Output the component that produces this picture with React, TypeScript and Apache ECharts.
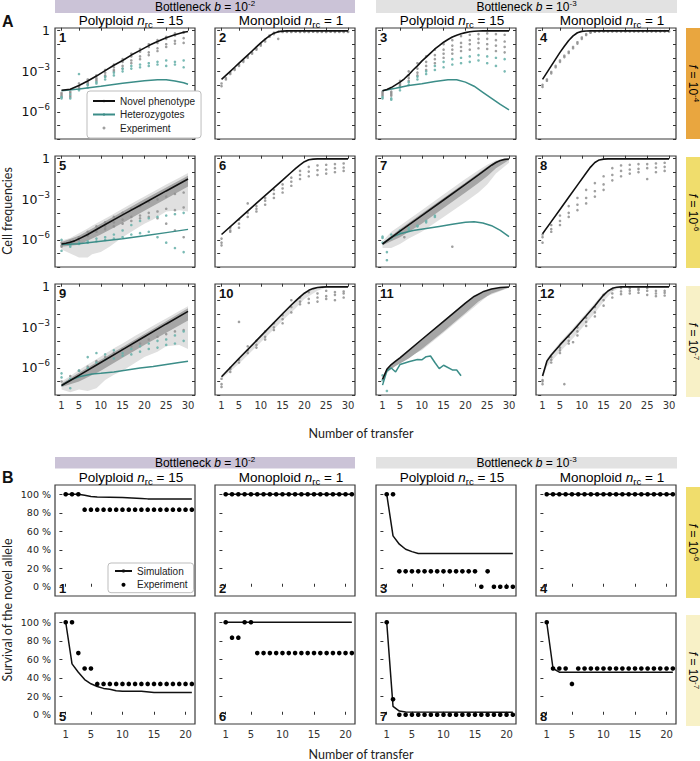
import React, { useEffect, useRef } from "react";
import * as echarts from "echarts";

// ---------------- transfers & tick labels ----------------
const tOdd = [1, 3, 5, 7, 9, 11, 13, 15, 17, 19, 21, 23, 25, 27, 29];
const tAll = [1, 2, 3, 4, 5, 6, 7, 8, 9, 10, 11, 12, 13, 14, 15, 16, 17, 18, 19, 20, 21, 22, 23, 24, 25, 26, 27, 28, 29, 30];
const tB = [1, 2, 3, 4, 5, 6, 7, 8, 9, 10, 11, 12, 13, 14, 15, 16, 17, 18, 19, 20, 21];
const xTicksA = [1, 5, 10, 15, 20, 25, 30];
const xTicksB = [1, 5, 10, 15, 20];
const yLabelsA = [-6, -3, 0]; // log10 of cell frequency
const yTicksA = [-8, -7, -6, -5, -4, -3, -2, -1, 0];
const yTicksB = [0, 20, 40, 60, 80, 100];

// ---------------- Panel A data (log10 cell frequency) ----------------
// 1: polyploid, b=1e-2, f=1e-4
const novel1 = [[1, -4.4], [3, -4.32], [5, -4.05], [7, -3.72], [9, -3.35], [11, -2.95], [13, -2.55], [15, -2.2], [17, -1.8], [19, -1.45], [21, -1.1], [23, -0.8], [25, -0.52], [27, -0.3], [29, -0.12], [30, -0.06]];
const het1 = [[1, -4.43], [5, -4.3], [10, -4.1], [15, -3.88], [20, -3.7], [23, -3.62], [25, -3.63], [27, -3.72], [29, -3.85], [30, -3.95]];
const g1a = [-4.8, -4.6, -4.2, -3.8, -3.5, -3.1, -2.7, -2.3, -1.9, -1.55, -1.2, -0.9, -0.6, -0.35, -0.15];
const g1b = [-4.6, -4.9, -4.1, -3.9, -3.7, -3.3, -2.9, -2.6, -2.2, -1.9, -1.6, -1.3, -1.0, -0.75, -0.55];
const g1c = [-4.9, -4.5, -3.9, -3.6, -3.3, -2.9, -2.5, -2.1, -1.7, -1.35, -1.0, -0.7, -0.45, -0.2, -0.1];
const g1d = [-4.7, -4.8, -4.3, -4.0, -3.6, -3.4, -3.0, -2.8, -2.4, -2.1, -1.8, -1.5, -1.2, -0.95, -0.9];
const t1a = [-4.9, -4.7, -3.2, -4.0, -3.8, -3.4, -3.1, -2.8, -2.6, -2.5, -2.4, -2.3, -2.2, -2.3, -2.2];
const t1b = [-5.0, -5.0, -4.4, -4.2, -3.9, -3.6, -3.3, -3.0, -2.8, -2.7, -2.6, -2.5, -2.6, -2.5, -2.7];

// 2: monoploid, b=1e-2, f=1e-4
const novel2 = [[1, -3.6], [2, -3.3], [3, -3.0], [4, -2.7], [5, -2.4], [6, -2.1], [7, -1.8], [8, -1.5], [9, -1.2], [10, -0.9], [11, -0.62], [12, -0.38], [13, -0.18], [14, -0.07], [15, -0.03], [16, -0.01], [30, -0.01]];
const g2a = [-3.9, -3.5, -3.1, -2.8, -2.5, -2.2, -1.9, -1.6, -1.3, -1.0, -0.65, -0.35, -0.15, -0.08, -0.05, -0.05, -0.06, -0.05, -0.05, -0.06, -0.05, -0.05, -0.05, -0.06, -0.05, -0.05, -0.05, -0.06, -0.05, -0.05];
const g2b = [-4.1, -3.6, -3.2, -2.9, -2.6, -2.3, -2.0, -1.7, -1.4, -1.1, -0.8, -0.45, -0.25, -0.6, -0.1, -0.09, -0.1, -0.08, -0.1, -0.09, -0.1, -0.08, -0.1, -0.09, -0.1, -0.08, -0.1, -0.09, -0.1, -0.09];

// 3: polyploid, b=1e-3, f=1e-4
const novel3 = [[1, -4.43], [2, -4.35], [3, -4.2], [4, -4.0], [5, -3.8], [6, -3.55], [7, -3.25], [8, -2.9], [9, -2.6], [10, -2.25], [11, -1.95], [12, -1.65], [13, -1.35], [14, -1.1], [15, -0.85], [16, -0.65], [17, -0.47], [18, -0.33], [19, -0.22], [20, -0.14], [21, -0.08], [22, -0.04], [23, -0.02], [24, -0.01], [30, -0.01]];
const het3 = [[1, -4.43], [4, -4.25], [7, -4.05], [10, -3.92], [13, -3.75], [16, -3.62], [18, -3.62], [20, -3.8], [22, -4.1], [24, -4.55], [26, -5.0], [28, -5.45], [30, -5.85]];
const g3a = [-4.6, -4.5, -3.9, -3.0, -2.4, -1.9, -1.4, -1.0, -0.7, -0.4, -0.3, -0.25, -0.2, -0.25, -0.3];
const g3b = [-4.8, -4.7, -4.1, -3.3, -2.8, -2.3, -1.8, -1.4, -1.1, -0.9, -0.7, -0.6, -0.6, -0.7, -0.8];
const g3c = [-4.5, -4.6, -3.7, -3.5, -3.1, -2.6, -2.1, -1.7, -1.4, -1.2, -1.0, -0.9, -1.0, -1.1, -1.2];
const g3d = [-4.7, -4.8, -4.0, -3.7, -3.3, -2.9, -2.4, -2.0, -1.7, -1.5, -1.4, -1.3, -1.35, -1.5, -1.6];
const t3a = [-4.9, -5.0, -4.2, -3.8, -3.4, -3.0, -2.6, -2.3, -2.1, -2.0, -1.9, -1.8, -1.9, -2.0, -2.1];
const t3b = [-5.0, -5.1, -4.4, -4.0, -3.6, -3.2, -2.9, -2.7, -2.5, -2.4, -2.3, -2.2, -2.4, -2.6, -3.0];

// 4: monoploid, b=1e-3, f=1e-4
const novel4 = [[1, -3.6], [2, -3.1], [3, -2.6], [4, -2.1], [5, -1.6], [6, -1.15], [7, -0.72], [8, -0.38], [9, -0.15], [10, -0.05], [11, -0.02], [12, -0.01], [30, -0.01]];
const g4a = [-4.0, -3.6, -3.05, -2.6, -2.2, -1.85, -1.55, -1.2, -0.85, -0.5, -0.25, -0.12, -0.06, -0.03, -0.03, -0.03, -0.03, -0.03, -0.03, -0.03, -0.03, -0.03, -0.03, -0.03, -0.03, -0.03, -0.03, -0.03, -0.03, -0.03];
const g4b = [-4.15, -3.7, -3.15, -2.7, -2.3, -1.95, -1.65, -1.3, -0.95, -0.6, -0.32, -0.15, -0.08, -0.05, -0.05, -0.05, -0.05, -0.05, -0.05, -0.05, -0.05, -0.05, -0.05, -0.05, -0.05, -0.05, -0.05, -0.05, -0.05, -0.05];

// 5: polyploid, b=1e-2, f=1e-6
const novel5 = [[1, -6.3], [2, -6.25], [3, -6.17], [4, -6.07], [5, -5.92], [7, -5.6], [10, -5.05], [15, -4.15], [20, -3.27], [25, -2.38], [30, -1.5]];
const het5 = [[1, -6.33], [5, -6.28], [10, -6.1], [15, -5.92], [20, -5.7], [25, -5.46], [30, -5.22]];
const band5Light = [[1, -6.7, -6.05], [3, -7.0, -5.85], [5, -7.3, -5.5], [7, -7.3, -5.15], [8, -7.05, -4.95], [10, -6.9, -4.6], [12, -6.5, -4.25], [15, -5.8, -3.7], [18, -5.2, -3.15], [20, -4.8, -2.8], [22, -4.5, -2.45], [25, -3.9, -1.9], [28, -3.8, -1.4], [30, -3.9, -1.05]];
const band5Dark = [[1, -6.5, -6.15], [5, -6.35, -5.7], [10, -5.6, -4.8], [15, -4.75, -3.9], [20, -3.85, -3.0], [25, -2.95, -2.12], [30, -2.05, -1.25]];
const g5a = [-6.2, -6.1, -5.8, -5.4, -5.0, -4.7, -4.3, -4.0, -3.7, -3.5, -3.2, -3.0, -2.8, -2.6, -2.5];
const g5b = [-6.5, -6.3, -6.0, -5.7, -5.3, -5.0, -4.7, -4.5, -4.3, -4.2, -4.0, -3.9, -3.7, -3.8, -3.6];
const g5c = [-6.4, -6.2, -5.9, -5.6, -5.4, -5.2, -5.0, -4.8, -4.6, -4.4, -4.3, -4.4, -4.8, -5.3, -5.8];
const t5a = [-6.0, -6.4, -6.2, -6.1, -5.9, -5.8, -5.6, -5.3, -4.9, -4.6, -4.4, -4.3, -4.2, -4.1, -4.0];
const t5b = [-6.8, -6.5, -6.3, -6.2, -6.1, -6.0, -5.9, -5.8, -5.6, -5.5, -5.4, -5.8, -6.2, -6.6, -6.9];

// 6: monoploid, b=1e-2, f=1e-6
const novel6 = [[1, -5.6], [5, -4.45], [10, -3.0], [15, -1.58], [17, -1.0], [18, -0.72], [19, -0.45], [20, -0.22], [21, -0.08], [22, -0.03], [23, -0.01], [30, -0.01]];
const g6a = [-5.9, -5.1, -4.5, -3.3, -3.5, -2.9, -2.3, -1.9, -1.4, -0.9, -0.6, -0.5, -0.45, -0.4, -0.35];
const g6b = [-6.2, -5.4, -4.8, -4.0, -3.7, -3.1, -2.6, -2.2, -1.7, -1.2, -0.95, -0.85, -0.8, -0.7, -0.65];
const g6c = [-6.4, -5.3, -5.1, -4.3, -3.9, -3.4, -2.9, -2.5, -2.0, -1.5, -1.3, -1.2, -1.1, -1.0, -0.9];

// 7: polyploid, b=1e-3, f=1e-6
const novel7 = [[1, -6.3], [5, -5.35], [10, -4.2], [15, -3.05], [20, -1.9], [23, -1.2], [25, -0.72], [26, -0.48], [27, -0.28], [28, -0.13], [29, -0.05], [30, -0.02]];
const het7 = [[1, -6.3], [3, -5.8], [5, -5.55], [8, -5.3], [11, -5.15], [14, -5.0], [17, -4.85], [20, -4.7], [22, -4.65], [24, -4.75], [26, -4.95], [28, -5.3], [30, -5.75]];
const band7Light = [[1, -6.6, -6.1], [3, -6.6, -5.4], [5, -6.3, -4.95], [7, -5.9, -4.5], [10, -5.4, -3.8], [15, -4.3, -2.65], [20, -3.2, -1.5], [23, -2.5, -0.85], [25, -1.9, -0.45], [27, -1.1, -0.12], [30, -0.3, -0.01]];
const band7Dark = [[1, -6.4, -6.2], [5, -5.8, -5.2], [10, -4.8, -4.05], [15, -3.65, -2.9], [20, -2.5, -1.75], [23, -1.8, -1.05], [25, -1.3, -0.6], [27, -0.7, -0.2], [30, -0.1, -0.02]];
const t7a = [-5.85, -5.6, -5.3, -5.1, -4.95, -4.6, -4.3, null, null, null, null, null, null, null, null];
const t7b = [-6.2, -5.9, -5.45, -5.25, -5.0, -4.7, -4.2, null, null, null, null, null, null, null, null];
const extraTeal7 = [[2, -6.9], [2, -7.5], [1, -5.75]];
const extraGray7 = [[17, -6.5], [6, -5.8]];

// 8: monoploid, b=1e-3, f=1e-6
const novel8 = [[1, -5.55], [3, -4.65], [5, -3.75], [7, -2.85], [9, -1.95], [11, -1.05], [12, -0.62], [13, -0.28], [14, -0.09], [15, -0.03], [16, -0.01], [30, -0.01]];
const g8a = [-5.6, -4.9, -4.2, -3.5, -2.9, -2.3, -1.8, -1.3, -0.7, -0.5, -0.45, -0.4, -0.4, -0.35, -0.3];
const g8b = [-5.8, -5.2, -4.6, -4.0, -3.4, -2.9, -2.4, -1.9, -1.2, -0.9, -0.8, -0.75, -0.7, -0.65, -0.6];
const g8c = [-6.2, -5.4, -4.9, -4.3, -3.8, -3.3, -2.8, -2.3, -1.6, -1.3, -1.1, -1.0, -1.5, -1.0, -0.9];

// 9: polyploid, b=1e-2, f=1e-7
const novel9 = [[1, -7.3], [3, -6.93], [5, -6.55], [10, -5.6], [15, -4.65], [20, -3.7], [25, -2.75], [30, -1.82]];
const het9 = [[1, -7.3], [3, -6.9], [5, -6.65], [8, -6.45], [10, -6.4], [13, -6.3], [16, -6.15], [19, -6.0], [22, -5.9], [25, -5.75], [28, -5.6], [30, -5.5]];
const band9Light = [[1, -7.6, -7.0], [3, -7.8, -6.6], [5, -7.6, -6.15], [7, -7.7, -5.75], [9, -7.5, -5.35], [11, -6.9, -4.95], [13, -6.5, -4.55], [15, -6.2, -4.2], [18, -5.6, -3.6], [20, -5.2, -3.25], [23, -4.8, -2.7], [25, -4.4, -2.35], [28, -4.3, -1.8], [30, -4.6, -1.45]];
const band9Dark = [[1, -7.4, -7.15], [5, -7.0, -6.35], [10, -6.2, -5.4], [15, -5.25, -4.45], [20, -4.3, -3.5], [25, -3.4, -2.55], [30, -2.5, -1.6]];
const g9a = [-7.0, -6.6, -6.2, -5.9, -5.5, -5.2, -4.9, -4.6, -4.4, -4.2, -3.9, -3.7, -3.5, -3.3, -3.2];
const t9a = [-6.4, -6.8, -6.2, -5.2, -4.9, -5.0, -4.7, -4.9, -4.6, -4.4, -4.2, -4.0, -3.9, -3.6, -3.3];
const t9b = [-6.7, -7.5, -6.6, -6.0, -5.6, -5.4, -5.3, -5.1, -5.0, -4.8, -4.6, -4.5, -4.3, -4.2, -4.0];

// 10: monoploid, b=1e-2, f=1e-7
const novel10 = [[1, -6.65], [5, -5.3], [10, -3.65], [15, -2.0], [17, -1.35], [18, -1.05], [19, -0.75], [20, -0.48], [21, -0.27], [22, -0.14], [23, -0.06], [24, -0.03], [25, -0.01], [30, -0.01]];
const band10Light = [[1, -6.8, -6.55], [5, -5.7, -5.2], [10, -4.1, -3.55], [15, -2.5, -1.9], [18, -1.6, -0.95], [20, -0.9, -0.4], [23, -0.3, -0.05], [25, -0.05, -0.01]];
const g10a = [-6.8, -6.1, -5.4, -4.4, -4.0, -3.3, -2.7, -2.1, -1.0, -0.8, -0.4, -0.5, -0.3, -0.4, -0.35];
const g10b = [-7.2, -6.3, -2.6, -4.7, -4.3, -3.7, -3.0, -2.4, -1.5, -1.1, -0.9, -0.8, -0.7, -0.6, -0.5];
const g10c = [-7.4, -6.0, -5.6, -4.9, -4.5, -3.9, -3.2, -2.7, -1.9, -1.3, -1.2, -1.1, -0.9, -1.0, -0.8];

// 11: polyploid, b=1e-3, f=1e-7
const novel11 = [[1, -6.85], [2, -6.1], [3, -5.75], [4, -5.5], [5, -5.25], [10, -3.9], [15, -2.56], [20, -1.22], [22, -0.72], [24, -0.38], [26, -0.17], [28, -0.06], [30, -0.02]];
const het11 = [[1, -7.27], [2, -6.22], [3, -6.0], [4, -6.3], [5, -5.75], [7, -5.55], [9, -5.38], [10, -5.4], [11, -5.17], [12, -5.12], [13, -5.6], [14, -6.05], [15, -5.8], [17, -6.15], [18, -6.15], [19, -6.58]];
const band11Light = [[1, -7.0, -6.8], [2, -6.4, -6.0], [5, -5.5, -5.15], [10, -4.7, -3.85], [15, -3.4, -2.5], [20, -2.05, -1.15], [25, -0.7, -0.25], [30, -0.08, -0.01]];
const band11Dark = [[2, -6.3, -6.1], [4, -5.85, -5.5], [7, -5.3, -4.75], [10, -4.6, -3.95], [15, -3.3, -2.6], [20, -1.95, -1.25], [23, -1.1, -0.55], [26, -0.5, -0.17], [30, -0.06, -0.02]];
const extraTeal11 = [[1, -6.55], [1, -6.9], [2, -7.7]];

// 12: monoploid, b=1e-3, f=1e-7
const novel12 = [[1, -6.6], [2, -5.5], [3, -5.05], [5, -4.3], [8, -3.25], [11, -2.15], [13, -1.4], [14, -1.0], [15, -0.62], [16, -0.32], [17, -0.12], [18, -0.04], [19, -0.01], [30, -0.01]];
const band12Light = [[1, -6.8, -6.4], [2, -5.9, -5.3], [5, -4.8, -4.1], [8, -3.8, -3.05], [11, -2.7, -1.95], [13, -1.95, -1.2], [15, -1.1, -0.45], [17, -0.35, -0.06], [19, -0.05, -0.01]];
const g12a = [-6.9, -5.2, -4.5, -3.7, -3.0, -2.3, -1.5, -0.6, -0.2, -0.1, -0.12, -0.15, -0.1, -0.3, -0.3];
const g12b = [-7.2, -5.4, -4.7, -4.0, -3.3, -2.6, -1.9, -1.0, -0.5, -0.35, -0.3, -0.25, -0.3, -0.5, -0.45];
const g12c = [-7.0, -5.6, -4.9, -4.2, -3.6, -2.9, -2.2, -1.4, -0.8, -0.55, -0.5, -0.45, -0.6, -0.7, -0.65];
const extraGray12 = [[6, -7.2], [8, -4.1]];

// ---------------- Panel B data (survival %, per transfer) ----------------
const simB1 = [[1, 100], [3, 100], [4, 99], [5, 97.5], [6, 97], [10, 96.5], [13, 95.5], [14, 95], [21, 95]];
const expB1 = [100, 100, 100, 83.3, 83.3, 83.3, 83.3, 83.3, 83.3, 83.3, 83.3, 83.3, 83.3, 83.3, 83.3, 83.3, 83.3, 83.3, 83.3, 83.3, 83.3];
const simB2 = [[1, 100], [21, 100]];
const expB2 = [100, 100, 100, 100, 100, 100, 100, 100, 100, 100, 100, 100, 100, 100, 100, 100, 100, 100, 100, 100, 100];
const simB3 = [[1, 100], [2, 55], [3, 46], [4, 40.5], [5, 38], [6, 36], [21, 36]];
const expB3 = [100, 100, 16.7, 16.7, 16.7, 16.7, 16.7, 16.7, 16.7, 16.7, 16.7, 16.7, 16.7, 16.7, 16.7, 0, 16.7, 0, 0, 0, 0];
const simB4 = [[1, 100], [21, 100]];
const expB4 = [100, 100, 100, 100, 100, 100, 100, 100, 100, 100, 100, 100, 100, 100, 100, 100, 100, 100, 100, 100, 100];
const simB5 = [[1, 100], [2, 55], [3, 46], [4, 38], [5, 33.5], [6, 30.5], [7, 28.5], [8, 27.5], [9, 26], [10, 25.5], [13, 25.5], [15, 24], [21, 24]];
const expB5 = [100, 100, 66.7, 50, 50, 33.3, 33.3, 33.3, 33.3, 33.3, 33.3, 33.3, 33.3, 33.3, 33.3, 33.3, 33.3, 33.3, 33.3, 33.3, 33.3];
const simB6 = [[1, 100], [21, 100]];
const expB6 = [100, 83.3, 83.3, 100, 100, 66.7, 66.7, 66.7, 66.7, 66.7, 66.7, 66.7, 66.7, 66.7, 66.7, 66.7, 66.7, 66.7, 66.7, 66.7, 66.7];
const simB7 = [[1, 100], [2, 9], [3, 4], [4, 3], [21, 2.8]];
const expB7 = [100, 16.7, 0, 0, 0, 0, 0, 0, 0, 0, 0, 0, 0, 0, 0, 0, 0, 0, 0, 0, 0];
const simB8 = [[1, 100], [2, 50], [3, 46], [21, 46]];
const expB8 = [100, 50, 50, 50, 33.3, 50, 50, 50, 50, 50, 50, 50, 50, 50, 50, 50, 50, 50, 50, 50, 50];

// ---------------- layout / style ----------------
const COL_LEFT = [55, 215, 376, 536];
const PW = 140;
const PH = 111;
const A_TOP = [28, 156, 284];
const B_TOP = [485, 613];
const BOX = "#3a3a3a";
const C_NOVEL = "#111111";
const C_HET = "#3b8d88";
const C_GRAY = "#8e8e8e";
const C_TEAL = "#6cb2ac";
const C_LIGHT = "#e0e0e0";
const C_DARK = "#a6a6a6";
const TICK_FONT = "DejaVu Sans";
const TITLE_FONT = "Liberation Sans";
const NAME_FONT = "Lato";

const panelsA: any[] = [
  { novel: novel1, het: het1, gray: [tOdd, [g1a, g1b, g1c, g1d]], teal: [tOdd, [t1a, t1b]] },
  { novel: novel2, gray: [tAll, [g2a, g2b]] },
  { novel: novel3, het: het3, gray: [tOdd, [g3a, g3b, g3c, g3d]], teal: [tOdd, [t3a, t3b]] },
  { novel: novel4, gray: [tAll, [g4a, g4b]] },
  { novel: novel5, het: het5, light: band5Light, dark: band5Dark, gray: [tOdd, [g5a, g5b, g5c]], teal: [tOdd, [t5a, t5b]] },
  { novel: novel6, gray: [tOdd, [g6a, g6b, g6c]] },
  { novel: novel7, het: het7, light: band7Light, dark: band7Dark, teal: [tOdd, [t7a, t7b]], extraTeal: extraTeal7, extraGray: extraGray7 },
  { novel: novel8, gray: [tOdd, [g8a, g8b, g8c]] },
  { novel: novel9, het: het9, light: band9Light, dark: band9Dark, gray: [tOdd, [g9a]], teal: [tOdd, [t9a, t9b]] },
  { novel: novel10, light: band10Light, gray: [tOdd, [g10a, g10b, g10c]] },
  { novel: novel11, het: het11, light: band11Light, dark: band11Dark, extraTeal: extraTeal11 },
  { novel: novel12, light: band12Light, gray: [tOdd, [g12a, g12b, g12c]], extraGray: extraGray12 },
];

const panelsB: any[] = [
  { sim: simB1, exp: expB1 },
  { sim: simB2, exp: expB2 },
  { sim: simB3, exp: expB3 },
  { sim: simB4, exp: expB4 },
  { sim: simB5, exp: expB5 },
  { sim: simB6, exp: expB6 },
  { sim: simB7, exp: expB7 },
  { sim: simB8, exp: expB8 },
];

function repsToPoints(spec: any, extra?: number[][]) {
  const pts: number[][] = [];
  if (spec) {
    const [t, reps] = spec;
    reps.forEach((r: (number | null)[]) =>
      r.forEach((v, i) => {
        if (v !== null && v !== undefined) pts.push([t[i], v]);
      })
    );
  }
  if (extra) extra.forEach((p) => pts.push(p));
  return pts;
}

const richSup = {
  a: { fontSize: 12, fontFamily: TITLE_FONT, color: "#1a1a1a" },
  i: { fontSize: 12, fontFamily: TITLE_FONT, color: "#1a1a1a", fontStyle: "italic" },
  s: { fontSize: 8, fontFamily: TITLE_FONT, color: "#1a1a1a", padding: [0, 0, 7, 0] },
};
const richTitle = {
  a: { fontSize: 13.5, fontFamily: TITLE_FONT, color: "#111" },
  i: { fontSize: 13.5, fontFamily: TITLE_FONT, color: "#111", fontStyle: "italic" },
  sub: { fontSize: 9.5, fontFamily: TITLE_FONT, color: "#111", padding: [7, 0, 0, 0] },
};

function buildOption() {
  const grid: any[] = [];
  const xAxis: any[] = [];
  const yAxis: any[] = [];
  const series: any[] = [];

  const tickStyle = { color: "#333", width: 1 };

  // shaded simulation range: polygon between low and high, placed via the axes' scales
  const addBand = (band: number[][], color: string, base: any) => {
    series.push({
      ...base,
      type: "custom",
      silent: true,
      z: 1,
      clip: true,
      encode: { x: 0, y: [1, 2] },
      data: band,
      renderItem: (params: any, api: any) => {
        if (params.dataIndex !== 0) return null;
        const upper = band.map((b) => api.coord([b[0], b[2]]));
        const lower = band.map((b) => api.coord([b[0], b[1]])).reverse();
        return { type: "polygon", shape: { points: upper.concat(lower) }, style: { fill: color } };
      },
    });
  };

  panelsA.forEach((p, k) => {
    const row = Math.floor(k / 4);
    const col = k % 4;
    const gi = grid.length;
    grid.push({ left: COL_LEFT[col], top: A_TOP[row], width: PW, height: PH, show: true, borderColor: BOX, borderWidth: 1.2, backgroundColor: "transparent" });
    const xi = xAxis.length;
    xAxis.push({
      gridIndex: gi, type: "value", min: -0.5, max: 31.6,
      axisLine: { show: false }, splitLine: { show: false },
      axisTick: { inside: true, length: 3, customValues: xTicksA, lineStyle: tickStyle },
      axisLabel: { show: row === 2, customValues: xTicksA, fontSize: 10, fontFamily: TICK_FONT, color: "#333", margin: 5 },
    });
    const yi = yAxis.length;
    yAxis.push({
      gridIndex: gi, type: "value", min: -8, max: 0.2, position: "left",
      axisLine: { show: false }, splitLine: { show: false },
      axisTick: { inside: true, length: 3, customValues: yTicksA, lineStyle: tickStyle },
      axisLabel: {
        show: col === 0, customValues: yLabelsA, margin: 5, color: "#111",
        formatter: (v: number) => (v === 0 ? "{n|1}" : `{n|10}{e|\u2212${-v}}`),
        rich: {
          n: { fontSize: 12.5, fontFamily: TICK_FONT, color: "#111" },
          e: { fontSize: 8.5, fontFamily: TICK_FONT, color: "#111", padding: [0, 0, 9, 0] },
        },
      },
    });
    yAxis.push({
      gridIndex: gi, type: "value", min: -8, max: 0.2, position: "right",
      axisLine: { show: false }, splitLine: { show: false },
      axisTick: { inside: true, length: 3, customValues: yTicksA, lineStyle: tickStyle },
      axisLabel: { show: false },
    });
    const base = { xAxisIndex: xi, yAxisIndex: yi };
    if (p.light) addBand(p.light, C_LIGHT, base);
    if (p.dark) addBand(p.dark, C_DARK, base);
    const grayPts = repsToPoints(p.gray, p.extraGray);
    if (grayPts.length)
      series.push({ ...base, name: "Experiment", type: "scatter", symbol: "circle", symbolSize: 2.6, itemStyle: { color: C_GRAY, opacity: 0.85 }, data: grayPts, z: 2, silent: true });
    const tealPts = repsToPoints(p.teal, p.extraTeal);
    if (tealPts.length)
      series.push({ ...base, name: "Heterozygote experiment", type: "scatter", symbol: "circle", symbolSize: 2.6, itemStyle: { color: C_TEAL, opacity: 0.9 }, data: tealPts, z: 2, silent: true });
    if (p.het)
      series.push({ ...base, name: "Heterozygotes", type: "line", symbol: "none", lineStyle: { color: C_HET, width: 1.5 }, itemStyle: { color: C_HET }, data: p.het, z: 3, silent: true });
    series.push({ ...base, name: "Novel phenotype", type: "line", symbol: "none", lineStyle: { color: C_NOVEL, width: 1.6 }, itemStyle: { color: C_NOVEL }, data: p.novel, z: 4, silent: true });
  });

  panelsB.forEach((p, k) => {
    const row = Math.floor(k / 4);
    const col = k % 4;
    const gi = grid.length;
    grid.push({ left: COL_LEFT[col], top: B_TOP[row], width: PW, height: PH, show: true, borderColor: BOX, borderWidth: 1.2, backgroundColor: "transparent" });
    const xi = xAxis.length;
    xAxis.push({
      gridIndex: gi, type: "value", min: -0.7, max: 21.5,
      axisLine: { show: false }, splitLine: { show: false },
      axisTick: { inside: true, length: 3, customValues: xTicksB, lineStyle: tickStyle },
      axisLabel: { show: row === 1, customValues: xTicksB, fontSize: 10, fontFamily: TICK_FONT, color: "#333", margin: 5 },
    });
    const yi = yAxis.length;
    yAxis.push({
      gridIndex: gi, type: "value", min: -10, max: 110,
      axisLine: { show: false }, splitLine: { show: false },
      axisTick: { inside: true, length: 3, customValues: yTicksB, lineStyle: tickStyle },
      axisLabel: { show: col === 0, customValues: yTicksB, fontSize: 9.5, fontFamily: TICK_FONT, color: "#222", margin: 4, formatter: (v: number) => `${v} %` },
    });
    const base = { xAxisIndex: xi, yAxisIndex: yi };
    series.push({ ...base, name: "Simulation", type: "line", symbol: "none", lineStyle: { color: "#111", width: 1.5 }, itemStyle: { color: "#111" }, data: p.sim, z: 3, silent: true });
    series.push({ ...base, name: "ExperimentB", type: "scatter", symbol: "circle", symbolSize: 4.6, itemStyle: { color: "#000", opacity: 1 }, data: tB.map((t, i) => [t, p.exp[i]]), z: 4, silent: true });
  });

  // ---------------- graphic texts and bands ----------------
  const g: any[] = [];
  const headers = [
    { x: 55, w: 300, sup: "-2", fill: "#cbc3d7" },
    { x: 376, w: 301, sup: "-3", fill: "#e2e2e2" },
  ];
  const headerRows = [{ y: 0, h: 13, titleY: 20.5 }, { y: 457, h: 11.5, titleY: 477.5 }];
  headerRows.forEach((hr) => {
    headers.forEach((h) => {
      g.push({ type: "rect", shape: { x: h.x, y: hr.y, width: h.w, height: hr.h }, style: { fill: h.fill }, silent: true });
      g.push({
        type: "text", x: h.x + h.w / 2, y: hr.y + hr.h / 2 + 0.5, silent: true,
        style: { text: `{a|Bottleneck }{i|b}{a| = 10}{s|${h.sup}}`, rich: richSup, align: "center", verticalAlign: "middle" },
      });
    });
    COL_LEFT.forEach((cl, c) => {
      const txt = c % 2 === 0 ? "{a|Polyploid }{i|n}{sub|rc}{a| = 15}" : "{a|Monoploid }{i|n}{sub|rc}{a| = 1}";
      g.push({ type: "text", x: cl + PW / 2 + 6, y: hr.titleY, silent: true, style: { text: txt, rich: richTitle, align: "center", verticalAlign: "middle" } });
    });
  });

  const strips = [
    { y: A_TOP[0], fill: "#e9a63f", e: "-4" },
    { y: A_TOP[1] + 1, fill: "#f0dd6c", e: "-6" },
    { y: A_TOP[2] + 2, fill: "#f8f1c7", e: "-7" },
    { y: B_TOP[0] + 2, fill: "#f0dd6c", e: "-6" },
    { y: B_TOP[1] + 2, fill: "#f8f1c7", e: "-7" },
  ];
  strips.forEach((s) => {
    g.push({ type: "rect", shape: { x: 686, y: s.y, width: 14, height: PH }, style: { fill: s.fill }, silent: true });
    g.push({
      type: "text", x: 693, y: s.y + PH / 2, rotation: -Math.PI / 2, silent: true,
      style: { text: `{i|f}{a| = 10}{s|${s.e}}`, rich: richSup, align: "center", verticalAlign: "middle" },
    });
  });

  // section letters
  g.push({ type: "text", x: 2, y: 21, silent: true, style: { text: "A", font: `bold 16px ${TITLE_FONT}`, fill: "#111", verticalAlign: "middle" } });
  g.push({ type: "text", x: 2, y: 477, silent: true, style: { text: "B", font: `bold 16px ${TITLE_FONT}`, fill: "#111", verticalAlign: "middle" } });

  // axis names
  g.push({ type: "text", x: 7, y: 211, rotation: Math.PI / 2, silent: true, style: { text: "Cell frequencies", font: `12.5px ${NAME_FONT}`, fill: "#222", align: "center", verticalAlign: "middle" } });
  g.push({ type: "text", x: 7, y: 610, rotation: Math.PI / 2, silent: true, style: { text: "Survival of the novel allele", font: `12.5px ${NAME_FONT}`, fill: "#222", align: "center", verticalAlign: "middle" } });
  g.push({ type: "text", x: 361, y: 433, silent: true, style: { text: "Number of transfer", font: `12.5px ${NAME_FONT}`, fill: "#222", align: "center", verticalAlign: "middle" } });
  g.push({ type: "text", x: 361, y: 754, silent: true, style: { text: "Number of transfer", font: `12.5px ${NAME_FONT}`, fill: "#222", align: "center", verticalAlign: "middle" } });

  // panel numbers
  for (let k = 0; k < 12; k++) {
    const row = Math.floor(k / 4), col = k % 4;
    g.push({ type: "text", x: COL_LEFT[col] + 4, y: A_TOP[row] + 3, z: 10, silent: true, style: { text: String(k + 1), font: `bold 13px ${TITLE_FONT}`, fill: "#111", verticalAlign: "top" } });
  }
  for (let k = 0; k < 8; k++) {
    const row = Math.floor(k / 4), col = k % 4;
    g.push({ type: "text", x: COL_LEFT[col] + 4, y: B_TOP[row] + PH - 1, z: 10, silent: true, style: { text: String(k + 1), font: `bold 13px ${TITLE_FONT}`, fill: "#111", verticalAlign: "bottom" } });
  }

  return {
    animation: false,
    backgroundColor: "#ffffff",
    grid, xAxis, yAxis, series,
    graphic: g,
    legend: [
      {
        data: ["Novel phenotype", "Heterozygotes", "Experiment"],
        left: 87, top: 91, orient: "vertical", selectedMode: false,
        itemWidth: 22, itemHeight: 3, itemGap: 1.5,
        padding: [4, 6, 4, 5],
        backgroundColor: "#ffffff", borderColor: "#bdbdbd", borderWidth: 1, borderRadius: 3,
        textStyle: { fontSize: 10, fontFamily: TITLE_FONT, color: "#222", lineHeight: 12 },
      },
      {
        data: ["Simulation", "ExperimentB"],
        left: 108, top: 563, orient: "vertical", selectedMode: false,
        itemWidth: 17, itemHeight: 4, itemGap: 1.7,
        padding: [2, 6, 2, 6],
        backgroundColor: "#ffffff", borderColor: "#bdbdbd", borderWidth: 1, borderRadius: 3,
        formatter: (name: string) => (name === "ExperimentB" ? "Experiment" : name),
        textStyle: { fontSize: 10, fontFamily: TITLE_FONT, color: "#222", lineHeight: 12 },
      },
    ],
  };
}

export default function App() {
  const ref = useRef<HTMLDivElement>(null);
  useEffect(() => {
    if (!ref.current) return;
    const chart = echarts.init(ref.current, null, { renderer: "svg", width: 700, height: 761 });
    chart.setOption(buildOption() as any);
    return () => chart.dispose();
  }, []);
  return (
    <div
      ref={ref}
      style={{ position: "absolute", left: 0, top: 0, width: 700, height: 761, background: "#fff" }}
    />
  );
}
